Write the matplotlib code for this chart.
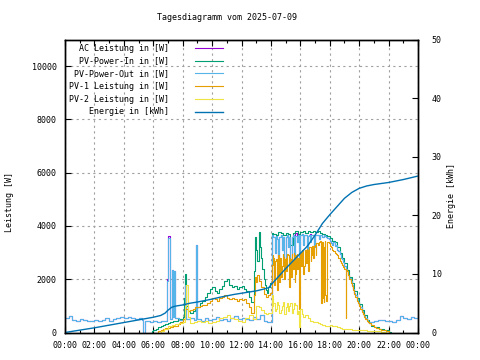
import matplotlib
matplotlib.use("Agg")
import matplotlib.pyplot as plt
import numpy as np

plt.rcParams['font.family'] = ['DejaVu Sans Mono']
plt.rcParams['font.size'] = 6

title = "Tagesdiagramm vom 2025-07-09"

# (hour, W) pairs
pv_in = [(5.83, 0), (5.92, 60), (6.0, 100), (6.17, 150), (6.33, 200), (6.5, 250),
         (6.67, 300), (6.83, 330), (7.0, 350), (7.17, 380), (7.33, 420), (7.5, 450),
         (7.67, 500), (7.83, 520), (8.0, 600), (8.08, 1300), (8.17, 2200), (8.25, 1000),
         (8.33, 800), (8.5, 750), (8.67, 800), (8.83, 900), (9.0, 950), (9.17, 1100),
         (9.33, 1200), (9.5, 1350), (9.67, 1500), (9.83, 1650), (10.0, 1700), (10.17, 1550),
         (10.33, 1500), (10.5, 1650), (10.67, 1750), (10.83, 1950), (11.0, 2000),
         (11.17, 1800), (11.33, 1700), (11.5, 1750), (11.67, 1650), (11.83, 1700),
         (12.0, 1750), (12.17, 1650), (12.33, 1550), (12.5, 1350), (12.67, 1150),
         (12.83, 2300), (12.92, 3580), (13.0, 3100), (13.08, 2700), (13.17, 3780),
         (13.25, 3200), (13.33, 2800), (13.42, 2400), (13.5, 2000), (13.58, 1800),
         (13.67, 1600), (13.75, 1500), (13.83, 1700), (13.92, 1850), (14.05, 3750),
         (14.17, 3700), (14.33, 3650), (14.5, 3780), (14.67, 3720), (14.83, 3650),
         (15.0, 3750), (15.17, 3700), (15.33, 3300), (15.5, 3750), (15.67, 3800),
         (15.83, 3700), (16.0, 3780), (16.17, 3800), (16.33, 3750), (16.5, 3800),
         (16.67, 3780), (16.83, 3800), (17.0, 3780), (17.17, 3800), (17.33, 3750),
         (17.5, 3700), (17.67, 3650), (17.83, 3620), (18.0, 3550), (18.17, 3450),
         (18.33, 3400), (18.5, 3200), (18.67, 3000), (18.83, 2800), (19.0, 2600),
         (19.17, 2350), (19.33, 2100), (19.5, 1850), (19.67, 1550), (19.83, 1300),
         (20.0, 1080), (20.17, 850), (20.33, 650), (20.5, 480), (20.67, 350), (20.83, 250),
         (21.0, 200), (21.33, 140), (21.67, 80), (22.0, 20), (22.17, 0)]

pv_out = [(0.0, 550), (0.25, 620), (0.5, 480), (0.75, 450), (1.0, 500), (1.25, 470),
          (1.5, 430), (1.75, 450), (2.0, 470), (2.25, 430), (2.5, 460), (2.75, 560),
          (3.0, 450), (3.25, 520), (3.5, 560), (3.75, 600), (4.0, 540), (4.25, 600),
          (4.5, 560), (4.75, 520), (5.0, 530), (5.25, 480), (5.33, 0), (5.42, 420),
          (5.75, 380), (6.0, 420), (6.25, 380), (6.5, 450), (6.75, 430), (6.92, 1950),
          (7.0, 3540), (7.17, 500), (7.25, 2350), (7.33, 600), (7.42, 2300), (7.5, 550),
          (7.75, 480), (8.0, 520), (8.17, 1800), (8.25, 500), (8.5, 540), (8.75, 470),
          (8.92, 3280), (9.0, 500), (9.25, 430), (9.5, 560), (9.75, 480), (10.0, 520),
          (10.25, 600), (10.5, 480), (10.75, 520), (11.0, 450), (11.25, 550), (11.5, 620),
          (11.75, 500), (12.0, 560), (12.25, 520), (12.5, 480), (12.75, 600), (13.0, 520),
          (13.25, 650), (13.5, 420), (13.75, 400), (14.05, 3650), (14.17, 3600),
          (14.25, 3000), (14.33, 3620), (14.42, 3500), (14.5, 2700), (14.58, 3600),
          (14.67, 3650), (14.75, 3100), (14.83, 3580), (14.92, 2600), (15.0, 3600),
          (15.08, 3650), (15.17, 3200), (15.25, 3600), (15.33, 2500), (15.42, 3580),
          (15.5, 3650), (15.58, 2900), (15.67, 3620), (15.75, 3400), (15.83, 3650),
          (15.92, 2700), (16.0, 3650), (16.08, 3700), (16.17, 3300), (16.25, 3650),
          (16.33, 3650), (16.42, 3000), (16.5, 3620), (16.58, 3650), (16.67, 3400),
          (16.75, 3650), (16.83, 3650), (16.92, 3200), (17.0, 3650), (17.08, 3650),
          (17.17, 3650), (17.25, 3500), (17.33, 3650), (17.42, 3650), (17.5, 3600),
          (17.58, 3650), (17.67, 3620), (17.75, 3600), (17.83, 3550), (17.92, 3500),
          (18.0, 3450), (18.08, 3350), (18.17, 3300), (18.25, 3400), (18.33, 3250),
          (18.42, 3280), (18.5, 3100), (18.58, 3050), (18.67, 2950), (18.75, 2800),
          (18.83, 2750), (18.92, 2650), (19.0, 2500), (19.08, 2400), (19.17, 2300),
          (19.25, 2150), (19.33, 2050), (19.42, 1950), (19.5, 1800), (19.58, 1650),
          (19.67, 1500), (19.75, 1400), (19.83, 1250), (19.92, 1150), (20.0, 1050),
          (20.08, 950), (20.17, 800), (20.25, 700), (20.33, 620), (20.42, 550),
          (20.5, 470), (20.58, 400), (20.67, 370), (20.75, 380), (21.0, 420),
          (21.25, 460), (21.5, 480), (21.75, 420), (22.0, 440), (22.25, 400),
          (22.5, 470), (22.75, 620), (23.0, 560), (23.25, 520), (23.5, 600),
          (23.75, 560), (24.0, 560)]

# AC power matches PV-Power-Out except at these samples
ac_diff = [(6.92, 2000), (7.0, 3620), (15.67, 3720), (16.67, 3700)]

pv1 = [(6.17, 0), (6.33, 40), (6.5, 80), (6.67, 120), (6.83, 160), (7.0, 180),
       (7.17, 200), (7.33, 230), (7.5, 260), (7.67, 330), (7.83, 400), (8.0, 500),
       (8.17, 900), (8.33, 800), (8.5, 860), (8.67, 900), (8.83, 950), (9.0, 960),
       (9.17, 1000), (9.33, 1020), (9.5, 1050), (9.67, 1100), (9.83, 1200), (10.0, 1280),
       (10.17, 1250), (10.33, 1200), (10.5, 1300), (10.67, 1350), (10.83, 1400),
       (11.0, 1300), (11.17, 1250), (11.33, 1300), (11.5, 1250), (11.67, 1200),
       (11.83, 1250), (12.0, 1220), (12.17, 1250), (12.33, 1100), (12.5, 950),
       (12.67, 750), (12.83, 1400), (12.92, 2100), (13.0, 1900), (13.08, 2150),
       (13.17, 1950), (13.33, 1700), (13.5, 1450), (13.67, 1350), (13.83, 1400),
       (13.92, 1500), (14.05, 2550), (14.12, 2900), (14.17, 2800), (14.21, 1800),
       (14.25, 2700), (14.33, 2750), (14.38, 2300), (14.42, 1600), (14.5, 2900),
       (14.54, 2400), (14.58, 1900), (14.62, 2800), (14.67, 2700), (14.71, 2100),
       (14.75, 2500), (14.79, 2950), (14.83, 2850), (14.88, 2300), (14.92, 2000),
       (14.96, 2750), (15.0, 2800), (15.04, 2300), (15.08, 2600), (15.12, 2950),
       (15.17, 2900), (15.21, 2400), (15.25, 1700), (15.29, 2800), (15.33, 2750),
       (15.38, 2100), (15.42, 2950), (15.46, 2700), (15.5, 2400), (15.54, 3000),
       (15.58, 2900), (15.62, 1900), (15.67, 2200), (15.71, 2900), (15.75, 2950),
       (15.79, 2400), (15.83, 2800), (15.88, 2500), (15.92, 900), (15.96, 2900),
       (16.0, 3000), (16.04, 2500), (16.08, 2900), (16.12, 3100), (16.17, 3100),
       (16.21, 2200), (16.25, 2500), (16.29, 3050), (16.33, 3100), (16.38, 2600),
       (16.42, 3150), (16.46, 3100), (16.5, 2700), (16.54, 2300), (16.58, 3150),
       (16.62, 3200), (16.67, 3200), (16.71, 2700), (16.75, 2900), (16.79, 3250),
       (16.83, 3250), (16.88, 2800), (16.92, 3250), (17.0, 3300), (17.04, 2900),
       (17.08, 3350), (17.17, 3300), (17.25, 3400), (17.33, 3450), (17.42, 1100),
       (17.46, 3300), (17.5, 3400), (17.54, 1300), (17.58, 1150), (17.62, 3200),
       (17.67, 3450), (17.71, 1400), (17.75, 1200), (17.79, 3400), (17.83, 3380),
       (17.92, 3350), (18.0, 3250), (18.08, 3200), (18.17, 3100), (18.25, 3050),
       (18.33, 3000), (18.42, 2950), (18.5, 2900), (18.58, 2800), (18.67, 2700),
       (18.75, 2600), (18.83, 2550), (18.92, 2450), (19.0, 2400), (19.08, 550),
       (19.12, 2350), (19.17, 2300), (19.25, 2150), (19.33, 2000), (19.42, 1850),
       (19.5, 1750), (19.58, 1600), (19.67, 1450), (19.75, 1350), (19.83, 1200),
       (19.92, 1100), (20.0, 1000), (20.08, 900), (20.17, 780), (20.25, 680),
       (20.33, 600), (20.42, 520), (20.5, 450), (20.58, 400), (20.67, 350),
       (20.83, 280), (21.0, 220), (21.17, 180), (21.33, 140), (21.5, 110),
       (21.67, 80), (21.83, 50), (22.0, 0)]

pv2 = [(6.25, 0), (6.5, 60), (6.75, 150), (7.0, 250), (7.25, 300), (7.5, 320),
       (7.75, 350), (8.0, 380), (8.17, 1000), (8.25, 1780), (8.33, 600), (8.5, 350),
       (8.75, 380), (9.0, 420), (9.25, 380), (9.5, 420), (9.75, 350), (10.0, 400),
       (10.25, 450), (10.5, 550), (10.75, 600), (11.0, 650), (11.25, 550), (11.5, 500),
       (11.75, 450), (12.0, 400), (12.25, 550), (12.5, 650), (12.75, 500), (13.0, 1000),
       (13.17, 950), (13.33, 850), (13.5, 750), (13.67, 700), (13.83, 750), (14.05, 1400),
       (14.12, 1000), (14.17, 1100), (14.25, 800), (14.33, 900), (14.42, 1150),
       (14.5, 1050), (14.58, 750), (14.67, 850), (14.75, 1000), (14.83, 1150),
       (14.92, 700), (15.0, 950), (15.08, 1100), (15.17, 800), (15.25, 1000),
       (15.33, 1100), (15.42, 750), (15.5, 900), (15.58, 1100), (15.67, 1050),
       (15.75, 700), (15.83, 800), (15.92, 200), (16.0, 900), (16.08, 700),
       (16.17, 600), (16.33, 650), (16.5, 550), (16.67, 450), (16.83, 400), (17.0, 380),
       (17.17, 350), (17.33, 320), (17.5, 300), (17.67, 250), (17.83, 260), (18.0, 300),
       (18.17, 260), (18.33, 230), (18.5, 200), (18.67, 180), (18.83, 150), (19.0, 120),
       (19.5, 100), (20.0, 80), (20.5, 60), (21.0, 40), (21.5, 20), (21.8, 0)]

# (hour, kWh)
energy = [(0, 0), (1, 0.4), (2, 0.8), (3, 1.25), (4, 1.7), (5, 2.15), (6, 2.6),
          (6.5, 2.9), (6.8, 3.3), (7.0, 3.8), (7.25, 4.3), (7.5, 4.5), (8, 4.7),
          (8.5, 5.0), (9, 5.2), (9.5, 5.45), (10, 5.7), (10.5, 6.0), (11, 6.25),
          (11.5, 6.5), (12, 6.7), (12.5, 6.9), (13, 7.1), (13.5, 7.4), (13.85, 7.65),
          (14.1, 8.4), (14.5, 9.5), (15, 10.9), (15.5, 12.2), (16, 13.5), (16.5, 14.8),
          (17, 16.6), (17.5, 18.6), (18, 20.1), (18.5, 21.5), (19, 22.9), (19.5, 23.9),
          (20, 24.6), (20.5, 25.0), (21, 25.25), (22, 25.6), (23, 26.1), (24, 26.7)]

labels = ["AC Leistung in [W]", "PV-Power-In in [W]", "PV-Power-Out in [W]",
          "PV-1 Leistung in [W]", "PV-2 Leistung in [W]", "Energie in [kWh]"]
colors = ["#9400d3", "#009e73", "#56b4e9", "#e69f00", "#f0e442", "#0072b2"]

hour_ticks = list(range(0, 25, 2))
hour_labels = ["%02d:00" % (h % 24) for h in hour_ticks]

ac_power = dict(pv_out)
ac_power.update(dict(ac_diff))
ac_power = sorted(ac_power.items())

fig = plt.figure(figsize=(4.8, 3.6), dpi=100)
ax = fig.add_axes([65 / 480, 1 - 332.5 / 360, 353 / 480, 293 / 360])
ax2 = ax.twinx()

handles = []
for data, lab, col in zip([ac_power, pv_in, pv_out, pv1, pv2], labels[:5], colors[:5]):
    t, v = np.array(data).T
    h, = ax.plot(t, v, drawstyle="steps-post", color=col, lw=0.8, label=lab)
    handles.append(h)

t, v = np.array(energy).T
h, = ax2.plot(t, v, color=colors[5], lw=1.0, label=labels[5])
handles.append(h)

ax.set_xlim(0, 24)
ax.set_ylim(0, 11000)
ax.set_xticks(hour_ticks)
ax.set_xticklabels(hour_labels)
ax.set_xticks(range(0, 25), minor=True)
ax.set_yticks(range(0, 10001, 2000))
ax.grid(True, which="major", color="#a0a0a0", linestyle=(0, (2, 3)), lw=0.8)
ax.tick_params(direction="in", top=True, length=4, width=0.8, pad=6)
ax.tick_params(which="minor", direction="in", top=True, length=2, width=0.8)

ax2.set_ylim(0, 50)
ax2.set_yticks(range(0, 51, 10))
ax2.tick_params(direction="in", length=4, width=0.8, pad=10)

for a in (ax, ax2):
    for s in a.spines.values():
        s.set_linewidth(1.0)

fig.text(227 / 480, 1 - 18 / 360, title, ha="center", va="center")
fig.text(10 / 480, 1 - 202 / 360, "Leistung [W]", rotation=90, ha="center", va="center")
fig.text(452 / 480, 1 - 195 / 360, "Energie [kWh]", rotation=90, ha="center", va="center")

ax.legend(handles=handles, markerfirst=False, frameon=False, loc="upper left",
          bbox_to_anchor=(0.0, 1.0), borderpad=0.3, handlelength=3.4,
          handletextpad=3.1, labelspacing=0.45, borderaxespad=0.2)

fig.savefig("out.png", dpi=100)
